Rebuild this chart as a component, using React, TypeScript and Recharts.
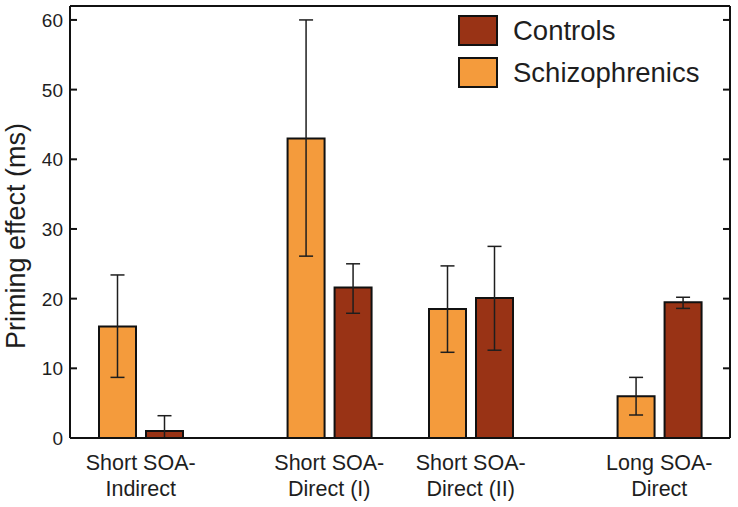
import { BarChart, Bar, XAxis, YAxis, ErrorBar, Legend, ReferenceLine } from 'recharts'

const groupLabels = [
  ['Short SOA-', 'Indirect'],
  ['Short SOA-', 'Direct (I)'],
  ['Short SOA-', 'Direct (II)'],
  ['Long SOA-', 'Direct'],
]
const groupPos = [3, 11, 17, 25]
const schizo = [16, 43, 18.5, 6]
const schizoErr = [[7.3, 7.4], [16.9, 17], [6.2, 6.2], [2.7, 2.7]]
const controls = [1, 21.6, 20.1, 19.5]
const controlsErr = [[1, 2.2], [3.7, 3.4], [7.5, 7.4], [0.9, 0.7]]
const yTicks = [0, 10, 20, 30, 40, 50, 60]
const xMax = 28
const yMax = 62

const ORANGE = '#F49B3C'
const DARK = '#993315'
const INK = '#1e1e1e'
const FONT = '"Liberation Sans", Arial, sans-serif'

const CHART_W = 738
const CHART_H = 507
const MARGIN = { top: 6, right: 8, bottom: 0, left: 20 }
const Y_AXIS_W = 50
const PLOT_LEFT = MARGIN.left + Y_AXIS_W
const PLOT_RIGHT = CHART_W - MARGIN.right

const legendItems = [
  { name: 'Controls', color: DARK },
  { name: 'Schizophrenics', color: ORANGE },
]

const data = groupPos.map((x, i) => ({
  x,
  schizo: schizo[i],
  schizoErr: schizoErr[i],
  controls: controls[i],
  controlsErr: controlsErr[i],
}))

function XTick({ x, y, payload }: any) {
  const i = groupPos.indexOf(payload.value)
  if (i < 0) return <g />
  const [l1, l2] = groupLabels[i]
  return (
    <text x={x} y={y} textAnchor="middle" fontSize={21.5} fill={INK} fontFamily={FONT}>
      <tspan x={x} dy={24}>{l1}</tspan>
      <tspan x={x} dy={26}>{l2}</tspan>
    </text>
  )
}

// inward tick marks on both sides of the frame, label on the left
function YTick({ x, y, payload }: any) {
  return (
    <g>
      <path d={`M${PLOT_LEFT},${y}h7`} stroke="#111" strokeWidth={2} fill="none" />
      <path d={`M${PLOT_RIGHT},${y}h-7`} stroke="#111" strokeWidth={2} fill="none" />
      <text x={x} y={y} dy={7} textAnchor="end" fontSize={19} fill={INK} fontFamily={FONT}>
        {payload.value}
      </text>
    </g>
  )
}

const renderYLabel = () => (
  <text transform="translate(25,236) rotate(-90)" textAnchor="middle" fontSize={27} fill={INK} fontFamily={FONT}>
    Priming effect (ms)
  </text>
)

function LegendBox() {
  return (
    <div style={{ fontFamily: FONT }}>
      {legendItems.map((it) => (
        <div key={it.name} style={{ display: 'flex', alignItems: 'center', height: 31, marginBottom: 11 }}>
          <div style={{ width: 40, height: 31, boxSizing: 'border-box', border: '2px solid #111', background: it.color }} />
          <span style={{ marginLeft: 15, fontSize: 27.5, lineHeight: '31px', color: INK }}>{it.name}</span>
        </div>
      ))}
    </div>
  )
}

export default function App() {
  return (
    <div style={{ position: 'absolute', left: 0, top: 0, background: '#fff' }}>
      <BarChart width={CHART_W} height={CHART_H} data={data} margin={MARGIN} barSize={37} barGap={10}>
        <XAxis
          dataKey="x"
          type="number"
          domain={[0, xMax]}
          ticks={groupPos}
          interval={0}
          height={69}
          tickLine={false}
          axisLine={{ stroke: '#111', strokeWidth: 2 }}
          tick={<XTick />}
          allowDataOverflow
        />
        <YAxis
          domain={[0, yMax]}
          ticks={yTicks}
          interval={0}
          width={Y_AXIS_W}
          tickLine={false}
          tickSize={0}
          tickMargin={7}
          axisLine={{ stroke: '#111', strokeWidth: 2 }}
          tick={<YTick />}
          label={{ content: renderYLabel }}
          allowDataOverflow
        />
        <ReferenceLine y={yMax} stroke="#111" strokeWidth={2} />
        <ReferenceLine x={xMax} stroke="#111" strokeWidth={2} />
        <Legend
          layout="horizontal"
          verticalAlign="middle"
          align="center"
          wrapperStyle={{ left: 458, top: 15, width: 270, height: 84 }}
          content={() => <LegendBox />}
        />
        <Bar dataKey="schizo" name="Schizophrenics" fill={ORANGE} stroke="#111" strokeWidth={2} isAnimationActive={false}>
          <ErrorBar dataKey="schizoErr" direction="y" width={7} stroke={INK} strokeWidth={1.5} isAnimationActive={false} />
        </Bar>
        <Bar dataKey="controls" name="Controls" fill={DARK} stroke="#111" strokeWidth={2} isAnimationActive={false}>
          <ErrorBar dataKey="controlsErr" direction="y" width={7} stroke={INK} strokeWidth={1.5} isAnimationActive={false} />
        </Bar>
      </BarChart>
    </div>
  )
}
